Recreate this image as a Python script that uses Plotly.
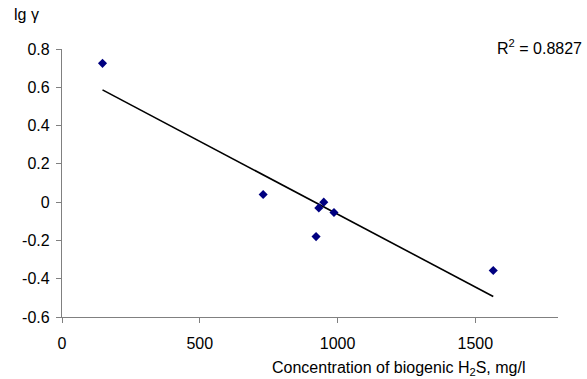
import numpy as np
import plotly.graph_objects as go

conc = [147, 730, 922, 932, 950, 987, 1565]
lg_gamma = [0.725, 0.040, -0.180, -0.030, 0.000, -0.054, -0.357]
x_ticks = [0, 500, 1000, 1500]
y_ticks = [-0.6, -0.4, -0.2, 0, 0.2, 0.4, 0.6, 0.8]
y_tick_text = ["-0.6", "-0.4", "-0.2", "0", "0.2", "0.4", "0.6", "0.8"]
r2_text = "R<sup>2</sup> = 0.8827"

slope, intercept = np.polyfit(conc, lg_gamma, 1)
trend_x = [min(conc), max(conc)]
trend_y = [slope * v + intercept for v in trend_x]

FONT = "Liberation Sans, Arial, sans-serif"

fig = go.Figure()
fig.add_trace(go.Scatter(x=trend_x, y=trend_y, mode="lines",
                         line=dict(color="black", width=1.6), hoverinfo="skip"))
fig.add_trace(go.Scatter(x=conc, y=lg_gamma, mode="markers",
                         marker=dict(symbol="diamond", size=7, color="#000080")))

fig.update_layout(
    width=587, height=379,
    margin=dict(l=62, r=29, t=49, b=62),
    paper_bgcolor="white", plot_bgcolor="white",
    showlegend=False,
    font=dict(family=FONT, size=16, color="black"),
    xaxis=dict(range=[0, 1800], tickvals=x_ticks, showgrid=False, zeroline=False,
               showline=True, linecolor="#808080", linewidth=1.2,
               ticks="outside", ticklen=5, tickcolor="#808080",
               ticklabelstandoff=7),
    yaxis=dict(range=[-0.6, 0.8], tickvals=y_ticks, ticktext=y_tick_text,
               showgrid=False, zeroline=False,
               showline=True, linecolor="#808080", linewidth=1.2,
               ticks="outside", ticklen=5, tickcolor="#808080",
               ticklabelstandoff=3),
    annotations=[
        dict(text="lg γ", xref="paper", yref="paper", x=-62/496, y=1 + 34/268,
             xanchor="left", yanchor="middle", showarrow=False, xshift=12),
        dict(text=r2_text, xref="paper", yref="paper", x=1, y=1 + 2/268,
             xanchor="right", yanchor="middle", showarrow=False, xshift=26),
        dict(text="Concentration of biogenic H<sub>2</sub>S, mg/l", xref="paper", yref="paper",
             x=(527-62)/496, y=-51/268, xanchor="right", yanchor="middle",
             showarrow=False),
    ],
)

fig.write_html("out.html", config={"displayModeBar": False},
               post_script="document.body.style.margin='0';")
